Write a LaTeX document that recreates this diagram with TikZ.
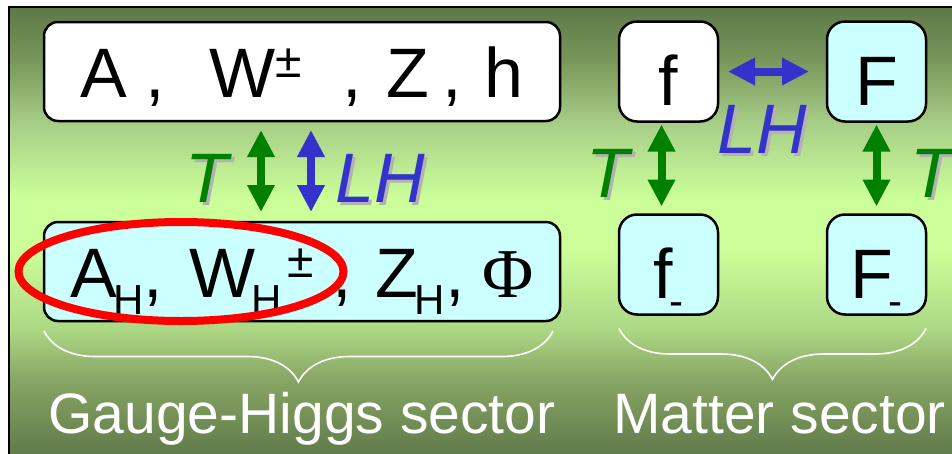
\documentclass[tikz,border=0pt]{standalone}
\usepackage{fontspec}
\setmainfont{Liberation Sans}
\newfontfamily\phifont{Liberation Serif}
\usetikzlibrary{arrows.meta, positioning, decorations.pathreplacing}
\definecolor{pdark}{RGB}{94,120,72}
\definecolor{pmid}{RGB}{120,150,90}
\definecolor{pupper}{RGB}{168,207,136}
\definecolor{plight}{RGB}{204,255,153}
\definecolor{plower}{RGB}{172,215,132}
\definecolor{pdeep}{RGB}{135,165,100}
\definecolor{boxcyan}{RGB}{204,255,255}
\definecolor{tgreen}{RGB}{0,128,0}
\definecolor{lhblue}{RGB}{51,51,204}
\definecolor{shadowgrey}{RGB}{178,178,178}
\pgfdeclareverticalshading{panelshade}{100bp}{color(0bp)=(pdark); color(25bp)=(pdark);
  color(33.8bp)=(pdeep); color(39.4bp)=(plower); color(48.2bp)=(plight);
  color(53.7bp)=(plight); color(62bp)=(pupper); color(69.2bp)=(pmid);
  color(75bp)=(pdark); color(100bp)=(pdark)}
\newcommand{\lsub}[1]{\hspace{-4pt}\raisebox{-17pt}{\fontsize{42}{42}\selectfont #1}}
\newcommand{\lsup}[1]{\raisebox{20pt}{\fontsize{48}{48}\selectfont #1}}
\newcommand{\shtxt}[1]{\rlap{\hspace{3pt}\raisebox{-3pt}{\color{shadowgrey}#1}}#1}
\tikzset{
  bigbox/.style={rectangle, draw=black, line width=2.5pt, rounded corners=14pt,
    minimum width=516pt, minimum height=99pt, inner sep=0pt, outer sep=0pt,
    text height=51pt, text depth=0pt, font=\fontsize{70}{70}\selectfont},
  smallbox/.style={rectangle, draw=black, line width=2.5pt, rounded corners=18pt,
    minimum width=99pt, minimum height=100pt, inner sep=0pt, outer sep=0pt,
    text height=68pt, text depth=0pt, font=\fontsize{70}{70}\selectfont},
  whitefill/.style={fill=white},
  cyanfill/.style={fill=boxcyan},
  garrow/.style={{Triangle[length=27pt,width=26pt]}-{Triangle[length=27pt,width=26pt]},
    line width=8pt, draw=tgreen},
  barrow/.style={{Triangle[length=27pt,width=26pt]}-{Triangle[length=27pt,width=26pt]},
    line width=8pt, draw=lhblue},
  tlabel/.style={text=tgreen, font=\fontsize{70}{70}\selectfont\itshape,
    inner sep=0pt, anchor=base},
  lhlabel/.style={text=lhblue, font=\fontsize{70}{70}\selectfont\itshape,
    inner sep=0pt, anchor=base},
  secbrace/.style={draw=white, line width=1.6pt, decorate,
    decoration={brace, mirror, amplitude=51pt}},
  seclabel/.style={text=white, font=\fontsize{57}{57}\selectfont,
    inner sep=0pt, anchor=base},
  ringmark/.style={draw=red, line width=8pt}
}
\begin{document}
\begin{tikzpicture}[x=1pt, y=-1pt]
  \useasboundingbox (0,0) rectangle (952,453);
  % panel
  \shade[shading=panelshade] (9,7) rectangle (960,460);
  \draw[line width=2.5pt] (9,460) |- (960,7);

  % Gauge-Higgs sector boxes
  \node[bigbox, whitefill] (gtop) at (302,71.5)
    {A\hspace{18pt},\hspace{45pt}W\lsup{±}\hspace{41pt},\hspace{24pt}Z\hspace{13pt},\hspace{23pt}h};
  \node[bigbox, cyanfill, below=101pt of gtop] (gbot)
    {A\lsub{H},\hspace{27pt}W\lsub{H}\hspace{5pt}\lsup{±}\hspace{19pt},\hspace{24pt}Z\lsub{H},\hspace{18pt}{\phifont Φ}};

  % Matter sector boxes
  \node[smallbox, whitefill, right=59pt of gtop] (fTop) {f};
  \node[smallbox, cyanfill, right=109pt of fTop] (FTop) {F};
  \node[smallbox, cyanfill, below=93pt of fTop] (fBot) {f\lsub{-}};
  \node[smallbox, cyanfill, below=93pt of FTop] (FBot) {F\lsub{-}};

  % T and LH arrows
  \draw[garrow] ([xshift=-41pt,yshift=-9pt]gtop.south) -- ([xshift=-41pt,yshift=10pt]gbot.north);
  \draw[barrow] ([xshift=9pt,yshift=-9pt]gtop.south) -- ([xshift=9pt,yshift=10pt]gbot.north);
  \draw[barrow] ([xshift=10pt]fTop.east) -- ([xshift=-18pt]FTop.west);
  \draw[garrow] ([xshift=-7pt,yshift=-3pt]fTop.south) -- ([xshift=-7pt,yshift=8pt]fBot.north);
  \draw[garrow] ([yshift=-3pt]FTop.south) -- ([yshift=8pt]FBot.north);

  % labels
  \node[tlabel] (tgauge) at (207,202) {\shtxt{T}};
  \node[lhlabel] (lhgauge) at (380,202) {\shtxt{LH}};
  \node[lhlabel] (lhmatter) at (762,153) {\shtxt{LH}};
  \node[tlabel] (tleft) at (608,197) {\shtxt{T}};
  \node[tlabel] (tright) at (932,197) {\shtxt{T}};

  % red ring
  \draw[ringmark] ([xshift=-121pt]gbot.center) ellipse [x radius=162.5, y radius=49.5];

  % braces and sector names
  \draw[secbrace] ([yshift=-10pt]gbot.south west) -- ([xshift=-7pt,yshift=-10pt]gbot.south east);
  \draw[secbrace] ([yshift=-14pt]fBot.south west) -- ([yshift=-14pt]FBot.south east);
  \node[seclabel] (gaugename) at (302,433) {Gauge-Higgs sector};
  \node[seclabel, anchor=base west] (mattername) at (613,433) {Matter sector};
\end{tikzpicture}
\end{document}
